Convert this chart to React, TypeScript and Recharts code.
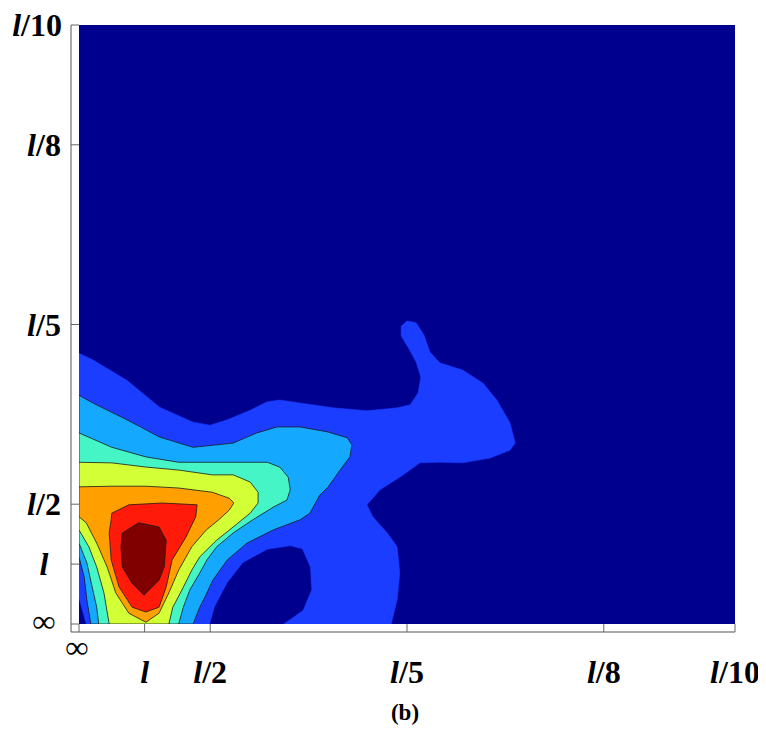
import React from 'react';
import { ScatterChart, Scatter, XAxis, YAxis } from 'recharts';

// tick positions (index scale) and their labels
const xTicks = [0, 1, 2, 5, 8, 10];
const xTickLabels = ['∞', 'l', 'l/2', 'l/5', 'l/8', 'l/10'];
const yTicks = [0, 1, 2, 5, 8, 10];
const yTickLabels = ['∞', 'l', 'l/2', 'l/5', 'l/8', 'l/10'];

// filled contour regions, outermost first, as [x, y] vertices
const fieldBox: [number, number][] = [[0, 0], [10, 0], [10, 10], [0, 10]];

const blueRegion: [number, number][] = [
  [0, 4.52], [0.21, 4.41], [0.73, 4.07], [1.23, 3.62], [1.74, 3.37], [2.0, 3.32], [2.26, 3.41],
  [2.61, 3.57], [2.87, 3.71], [3.06, 3.74], [3.37, 3.69], [3.87, 3.61], [4.39, 3.56], [4.85, 3.61],
  [5.05, 3.66], [5.17, 3.86], [5.21, 4.12], [5.14, 4.37], [5.02, 4.61], [4.91, 4.81], [4.91, 4.97],
  [5.0, 5.06], [5.14, 5.03], [5.26, 4.82], [5.35, 4.54], [5.5, 4.36], [5.85, 4.24], [6.16, 4.02],
  [6.37, 3.74], [6.57, 3.36], [6.65, 3.02], [6.57, 2.9], [6.27, 2.77], [5.85, 2.69], [5.5, 2.7],
  [5.2, 2.69], [4.89, 2.45], [4.59, 2.24], [4.39, 1.99], [4.48, 1.79], [4.7, 1.52], [4.85, 1.29],
  [4.89, 0.85], [4.85, 0.4], [4.76, 0], [0.11, 0], [0.06, 0.2], [0, 0.43],
];

const lowHole: [number, number][] = [
  [2.0, 0], [2.07, 0.28], [2.26, 0.68], [2.5, 1.02], [2.87, 1.24], [3.22, 1.3], [3.4, 1.25],
  [3.52, 0.95], [3.54, 0.57], [3.41, 0.23], [3.11, 0],
];

const lightBlueRegion: [number, number][] = [
  [0, 3.82], [0.21, 3.69], [0.73, 3.41], [1.23, 3.12], [1.74, 2.95], [2.35, 3.02], [2.71, 3.19],
  [3.02, 3.29], [3.37, 3.29], [3.78, 3.21], [4.09, 3.11], [4.16, 2.99], [4.13, 2.79], [3.98, 2.57],
  [3.8, 2.29], [3.67, 2.15], [3.52, 1.85], [3.37, 1.74], [2.96, 1.57], [2.56, 1.35], [2.26, 1.07],
  [2.04, 0.73], [1.92, 0.45], [1.84, 0.28], [1.74, 0], [0.18, 0], [0.12, 0.4], [0.08, 0.78], [0, 1.12],
];

const aquaRegion: [number, number][] = [
  [0, 3.19], [0.5, 2.95], [1.02, 2.79], [1.52, 2.7], [2.03, 2.7], [2.35, 2.7], [2.87, 2.7],
  [3.06, 2.62], [3.19, 2.45], [3.22, 2.24], [3.17, 2.07], [2.96, 1.95], [2.65, 1.74], [2.35, 1.52],
  [2.1, 1.29], [1.95, 1.07], [1.84, 0.85], [1.69, 0.57], [1.59, 0.28], [1.52, 0], [0.3, 0],
  [0.27, 0.28], [0.2, 0.62], [0.12, 1.02], [0, 1.35],
];

const yellowGreenRegion: [number, number][] = [
  [0, 2.7], [0.5, 2.69], [1.02, 2.62], [1.52, 2.57], [2.03, 2.49], [2.35, 2.49], [2.61, 2.37],
  [2.73, 2.2], [2.73, 2.02], [2.61, 1.85], [2.35, 1.62], [2.1, 1.4], [1.95, 1.24], [1.84, 1.12],
  [1.72, 0.9], [1.57, 0.57], [1.43, 0.28], [1.37, 0], [0.46, 0], [0.38, 0.52], [0.27, 0.95],
  [0.15, 1.29], [0, 1.57],
];

const orangeRegion: [number, number][] = [
  [0, 2.29], [0.5, 2.3], [1.02, 2.3], [1.52, 2.27], [2.03, 2.2], [2.29, 2.1], [2.36, 2.02],
  [2.29, 1.9], [2.13, 1.74], [1.94, 1.57], [1.72, 1.29], [1.52, 0.9], [1.37, 0.52], [1.22, 0.18],
  [1.02, 0.03], [0.76, 0.18], [0.56, 0.52], [0.43, 0.95], [0.27, 1.35], [0.11, 1.69], [0, 1.79],
];

const redRegion: [number, number][] = [
  [0.5, 1.85], [0.76, 1.99], [1.27, 2.02], [1.8, 1.99], [1.78, 1.79], [1.63, 1.45], [1.42, 1.07],
  [1.33, 0.62], [1.22, 0.28], [1.02, 0.2], [0.81, 0.28], [0.61, 0.62], [0.49, 1.07], [0.46, 1.52],
  [0.49, 1.74],
];

const darkRedRegion: [number, number][] = [
  [0.66, 1.52], [0.91, 1.69], [1.22, 1.62], [1.33, 1.4], [1.3, 0.95], [1.22, 0.73], [0.99, 0.48],
  [0.81, 0.68], [0.66, 0.95], [0.64, 1.29],
];

const NAVY = '#00008f';
const layers: { pts: [number, number][]; color: string; edge: boolean }[] = [
  { pts: fieldBox, color: NAVY, edge: false },
  { pts: blueRegion, color: '#1a3dff', edge: false },
  { pts: lowHole, color: NAVY, edge: false },
  { pts: lightBlueRegion, color: '#14a8ff', edge: true },
  { pts: aquaRegion, color: '#45f5c5', edge: true },
  { pts: yellowGreenRegion, color: '#d2ff36', edge: true },
  { pts: orangeRegion, color: '#ffa000', edge: true },
  { pts: redRegion, color: '#ff1a0a', edge: true },
  { pts: darkRedRegion, color: '#800000', edge: true },
];

const FONT = '"Times New Roman", "Liberation Serif", serif';

const noDot = () => <g />;

const labelText = (label: string) =>
  label.startsWith('l') ? (
    <>
      <tspan fontStyle="italic">l</tspan>
      <tspan>{label.slice(1)}</tspan>
    </>
  ) : (
    label
  );

const XTick = (props: any) => {
  const { x, y, payload } = props;
  const label = xTickLabels[xTicks.indexOf(payload.value)];
  const isInf = payload.value === 0;
  return (
    <g>
      <line x1={x} y1={y} x2={x} y2={y - 8} stroke="#666" />
      <text
        x={x - (isInf ? 2 : 0)}
        y={y + (isInf ? 26 : 51)}
        textAnchor="middle"
        fontFamily={FONT}
        fontWeight="bold"
        fontSize={32}
        fill="#000"
      >
        {labelText(label)}
      </text>
    </g>
  );
};

const YTick = (props: any) => {
  const { x, y, payload } = props;
  const label = yTickLabels[yTicks.indexOf(payload.value)];
  const wide = label.length > 3;
  return (
    <g>
      <line x1={x} y1={y} x2={x + 8} y2={y} stroke="#666" />
      <text
        x={wide ? x - 9 : x - 27}
        y={y + (label === '∞' ? 8 : 11)}
        textAnchor={wide ? 'end' : 'middle'}
        fontFamily={FONT}
        fontWeight="bold"
        fontSize={32}
        fill="#000"
      >
        {labelText(label)}
      </text>
    </g>
  );
};

export default function App() {
  return (
    <div style={{ position: 'relative', width: 758, height: 720 }}>
      <ScatterChart width={758} height={700} margin={{ top: 17, right: 31, bottom: 0, left: 0 }}>
        <XAxis
          type="number"
          dataKey="x"
          domain={[0, 10]}
          ticks={xTicks}
          interval={0}
          padding={{ left: 8, right: 0 }}
          height={76}
          tickLine={false}
          tickSize={0}
          tickMargin={0}
          axisLine={{ stroke: '#555' }}
          tick={<XTick />}
          allowDataOverflow
        />
        <YAxis
          type="number"
          dataKey="y"
          domain={[0, 10]}
          ticks={yTicks}
          interval={0}
          padding={{ top: 0, bottom: 8 }}
          width={63}
          tickLine={false}
          tickSize={0}
          tickMargin={0}
          axisLine={{ stroke: '#555' }}
          tick={<YTick />}
          allowDataOverflow
        />
        {layers.map((layer, i) => (
          <Scatter
            key={i}
            data={layer.pts.map(([x, y]) => ({ x, y }))}
            fill={layer.color}
            shape={noDot}
            line={{
              fill: layer.color,
              stroke: layer.edge ? '#1a1a1a' : layer.color,
              strokeWidth: layer.edge ? 0.8 : 0.5,
            }}
            lineJointType="linearClosed"
            isAnimationActive={false}
          />
        ))}
      </ScatterChart>
      <div
        style={{
          position: 'absolute',
          left: 347,
          top: 692,
          width: 100,
          textAlign: 'center',
          fontFamily: FONT,
          fontWeight: 'bold',
          fontSize: 23,
        }}
      >
        (b)
      </div>
    </div>
  );
}
